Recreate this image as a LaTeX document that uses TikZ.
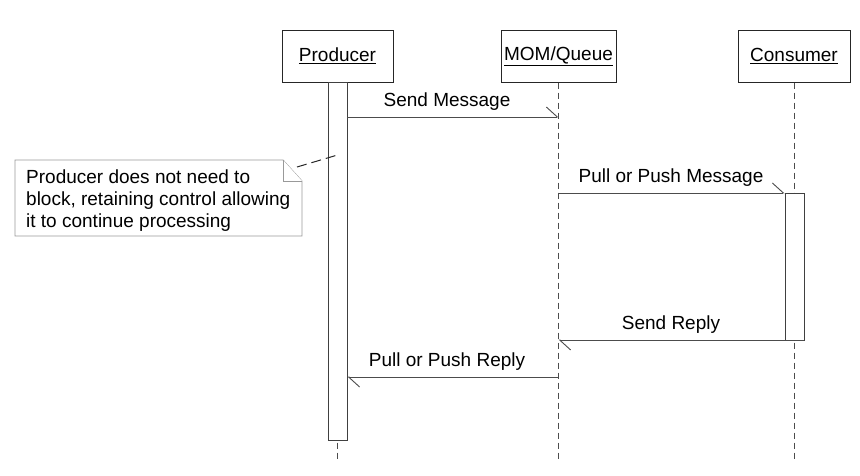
\documentclass[tikz,border=0pt]{standalone}
\usepackage{fontspec}
\setmainfont{Liberation Sans}
\usetikzlibrary{arrows.meta}

\begin{document}
\begin{tikzpicture}[x=1pt,y=-1pt,
    font=\fontsize{19}{22}\selectfont,
    head/.style={draw=black!85, line width=1pt, fill=white, minimum height=52pt, inner sep=0pt},
    actbar/.style={draw=black!75, line width=0.9pt, fill=white, minimum width=19pt, inner sep=0pt},
    lifeline/.style={draw=black!70, line width=0.9pt, dash pattern=on 6pt off 4pt},
    msg/.style={draw=black!70, line width=0.9pt,
        -{Straight Barb[harpoon, length=11pt, width=20pt, line width=0.9pt]}},
    lbl/.style={inner sep=0pt, anchor=base},
    notebox/.style={draw=black!40, line width=0.9pt, fill=white}]
    % Page
    \useasboundingbox (0,0) rectangle (860,475);

    % Object heads
    \node[head, minimum width=111pt] (producer) at (337.5,56) {\underline{Producer}};
    \node[head, minimum width=115pt] (queue) at (558.5,56) {\underline{MOM/Queue}};
    \node[head, minimum width=112pt] (consumer) at (794,56) {\underline{Consumer}};

    % Lifeline ends
    \coordinate (pend) at (337.5,460);
    \coordinate (qend) at (558.5,460);
    \coordinate (cend) at (794,460);

    % Lifelines
    \draw[lifeline] (producer.south) -- (pend);
    \draw[lifeline] (queue.south) -- (qend);
    \draw[lifeline] (consumer.south) -- (cend);

    % Activation bars
    \node[actbar, minimum height=358pt] (pbar) at (337.5,261) {};
    \node[actbar, minimum height=147pt] (cbar) at (794.5,266.5) {};

    % Message heights
    \coordinate (m1) at (0,117);
    \coordinate (m2) at (0,193);
    \coordinate (m3) at (0,340);
    \coordinate (m4) at (0,377);

    % Messages
    \draw[msg] (pbar.east |- m1) -- (queue.south |- m1);
    \draw[msg] (queue.south |- m2) -- (cbar.west |- m2);
    \draw[msg] (cbar.east |- m3) -- (queue.south |- m3);
    \draw[msg] (queue.south |- m4) -- (pbar.east |- m4);

    % Message labels
    \node[lbl] (lsend) at (447,106) {Send Message};
    \node[lbl] (lpull) at (671,182) {Pull or Push Message};
    \node[lbl] (lreply) at (671,329) {Send Reply};
    \node[lbl] (lback) at (447,366) {Pull or Push Reply};

    % Note with folded corner
    \draw[notebox] (15,160) -- (283,160) -- (302,181) -- (302,236) -- (15,236) -- cycle;
    \draw[notebox] (283,160) -- (283,181) -- (302,181);
    \node[align=left, anchor=north west, inner sep=0pt] (note) at (26,169.5)
        {Producer does not need to\\block, retaining control allowing\\it to continue processing};

    % Note anchor line
    \coordinate (nstart) at (297,167);
    \coordinate (nend) at (0,155);
    \draw[draw=black!85, line width=1pt, dash pattern=on 10pt off 5pt] (nstart) -- (pbar.center |- nend);
\end{tikzpicture}
\end{document}
